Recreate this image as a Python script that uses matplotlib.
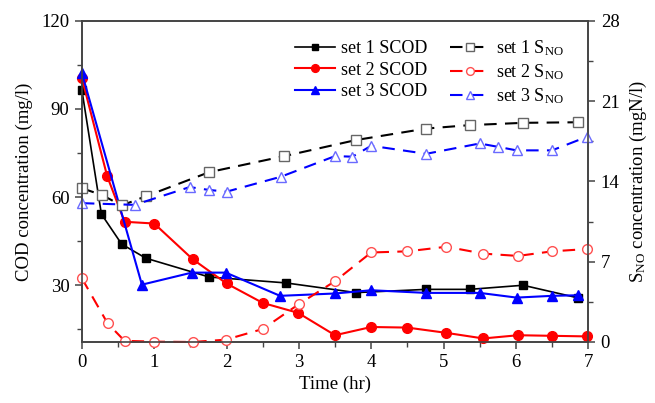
import matplotlib
matplotlib.use("Agg")
import matplotlib.pyplot as plt
from matplotlib.ticker import MultipleLocator

plt.rcParams['font.family'] = ['Liberation Serif', 'DejaVu Serif']
plt.rcParams['mathtext.fontset'] = 'custom'
plt.rcParams['mathtext.rm'] = 'Liberation Serif'
plt.rcParams['mathtext.it'] = 'Liberation Serif'

# ---- data ----
t_scod1 = [0, 0.27, 0.55, 0.885, 1.76, 2.82, 3.79, 4.76, 5.36, 6.1, 6.86]
scod1 = [96.4, 54.2, 44.0, 39.2, 32.8, 30.8, 27.5, 28.6, 28.6, 30.0, 25.7]

t_scod2 = [0, 0.35, 0.59, 1.0, 1.53, 2.0, 2.5, 2.99, 3.5, 4.0, 4.5, 5.04, 5.55, 6.03, 6.5, 6.98]
scod2 = [100.5, 67.1, 51.6, 51.0, 38.9, 30.6, 24.0, 20.6, 13.0, 15.8, 15.6, 13.8, 11.9, 13.0, 12.8, 12.6]

t_scod3 = [0, 0.83, 1.52, 1.99, 2.74, 3.5, 4.0, 4.76, 5.5, 6.01, 6.5, 6.86]
scod3 = [102.2, 30.2, 34.3, 34.3, 26.4, 27.2, 28.3, 27.4, 27.4, 25.8, 26.4, 26.6]

t_sno1 = [0, 0.28, 0.55, 0.885, 1.76, 2.8, 3.79, 4.76, 5.36, 6.1, 6.86]
sno1 = [13.4, 12.8, 11.9, 12.7, 14.8, 16.2, 17.6, 18.6, 18.9, 19.1, 19.15]

t_sno2 = [0, 0.355, 0.59, 1.0, 1.53, 1.99, 2.5, 3.0, 3.5, 4.0, 4.5, 5.04, 5.55, 6.03, 6.5, 6.98]
sno2 = [5.55, 1.63, 0.1, 0.03, 0.0, 0.2, 1.13, 3.3, 5.3, 7.8, 7.9, 8.3, 7.7, 7.5, 7.9, 8.1]

t_sno3 = [0, 0.73, 1.49, 1.76, 2.0, 2.75, 3.5, 3.74, 4.0, 4.76, 5.5, 5.76, 6.01, 6.5, 6.99]
sno3 = [12.1, 11.95, 13.5, 13.25, 13.1, 14.4, 16.2, 16.15, 17.1, 16.4, 17.3, 17.0, 16.7, 16.7, 17.9]

labels_scod = ['set 1 SCOD', 'set 2 SCOD', 'set 3 SCOD']
labels_sno = [r'set 1 S$_{\rm NO}$', r'set 2 S$_{\rm NO}$', r'set 3 S$_{\rm NO}$']

# ---- figure ----
fig = plt.figure(figsize=(6.55, 4.03), dpi=100)
ax = fig.add_axes([0.125, 0.1514, 0.773, 0.7972])
ax2 = ax.twinx()

spine_c = '#444444'
lw = 1.5
ms = 6

h1, = ax.plot(t_scod1, scod1, '-', color='black', lw=1.2, marker='s', ms=ms,
              mfc='black', mec='black', label=labels_scod[0], clip_on=False, zorder=3)
h2, = ax.plot(t_scod2, scod2, '-', color='#ff0000', lw=lw, marker='o', ms=ms + 1,
              mfc='#ff0000', mec='#ff0000', label=labels_scod[1], clip_on=False, zorder=3)
h3, = ax.plot(t_scod3, scod3, '-', color='#0000ff', lw=lw, marker='^', ms=ms + 1,
              mfc='#0000ff', mec='#0000ff', label=labels_scod[2], clip_on=False, zorder=3)

dash = (6, 4)
h4, = ax2.plot(t_sno1, sno1, '--', color='black', lw=lw, dashes=dash, marker='s', ms=ms + 1,
               mfc='white', mec='#666666', mew=1.0, label=labels_sno[0], clip_on=False)
h5, = ax2.plot(t_sno2, sno2, '--', color='#ff0000', lw=lw, dashes=dash, marker='o', ms=ms + 1,
               mfc='white', mec='#ff5050', mew=1.0, label=labels_sno[1], clip_on=False)
h6, = ax2.plot(t_sno3, sno3, '--', color='#0000ff', lw=lw, dashes=dash, marker='^', ms=ms + 1,
               mfc='white', mec='#6a6aff', mew=1.0, label=labels_sno[2], clip_on=False)

ax.set_xlim(0, 7)
ax.set_ylim(10.7, 120)
ax2.set_ylim(0, 28)

ax.xaxis.set_major_locator(MultipleLocator(1))
ax.xaxis.set_minor_locator(MultipleLocator(0.5))
ax.yaxis.set_major_locator(MultipleLocator(30))
ax.yaxis.set_minor_locator(MultipleLocator(15))
ax2.yaxis.set_major_locator(MultipleLocator(7))
ax2.yaxis.set_minor_locator(MultipleLocator(3.5))

fs = 13.5
for a in (ax, ax2):
    for s in a.spines.values():
        s.set_color(spine_c)
        s.set_linewidth(1.2)
    a.tick_params(which='major', direction='out', length=5, width=1.1, color=spine_c,
                  labelsize=fs, pad=4)
    a.tick_params(which='minor', direction='out', length=3.5, width=1.0, color=spine_c)
ax.tick_params(axis='x', which='both', top=False)

ax.set_xlabel('Time (hr)', fontsize=fs, labelpad=3)
ax.set_ylabel('COD concentration (mg/l)', fontsize=fs, labelpad=6)
ax2.set_ylabel(r'S$_{\rm NO}$ concentration (mgN/l)', fontsize=fs, labelpad=6,
               rotation=90)

leg = ax2.legend(handles=[h1, h2, h3, h4, h5, h6], ncol=2, loc='upper left',
                 bbox_to_anchor=(0.44, 0.923), bbox_transform=fig.transFigure,
                 frameon=False, fontsize=13, handlelength=2.2, handletextpad=0.3,
                 columnspacing=1.3, labelspacing=0.25, borderaxespad=0,
                 markerscale=0.8)

fig.savefig('out.png', dpi=100)
